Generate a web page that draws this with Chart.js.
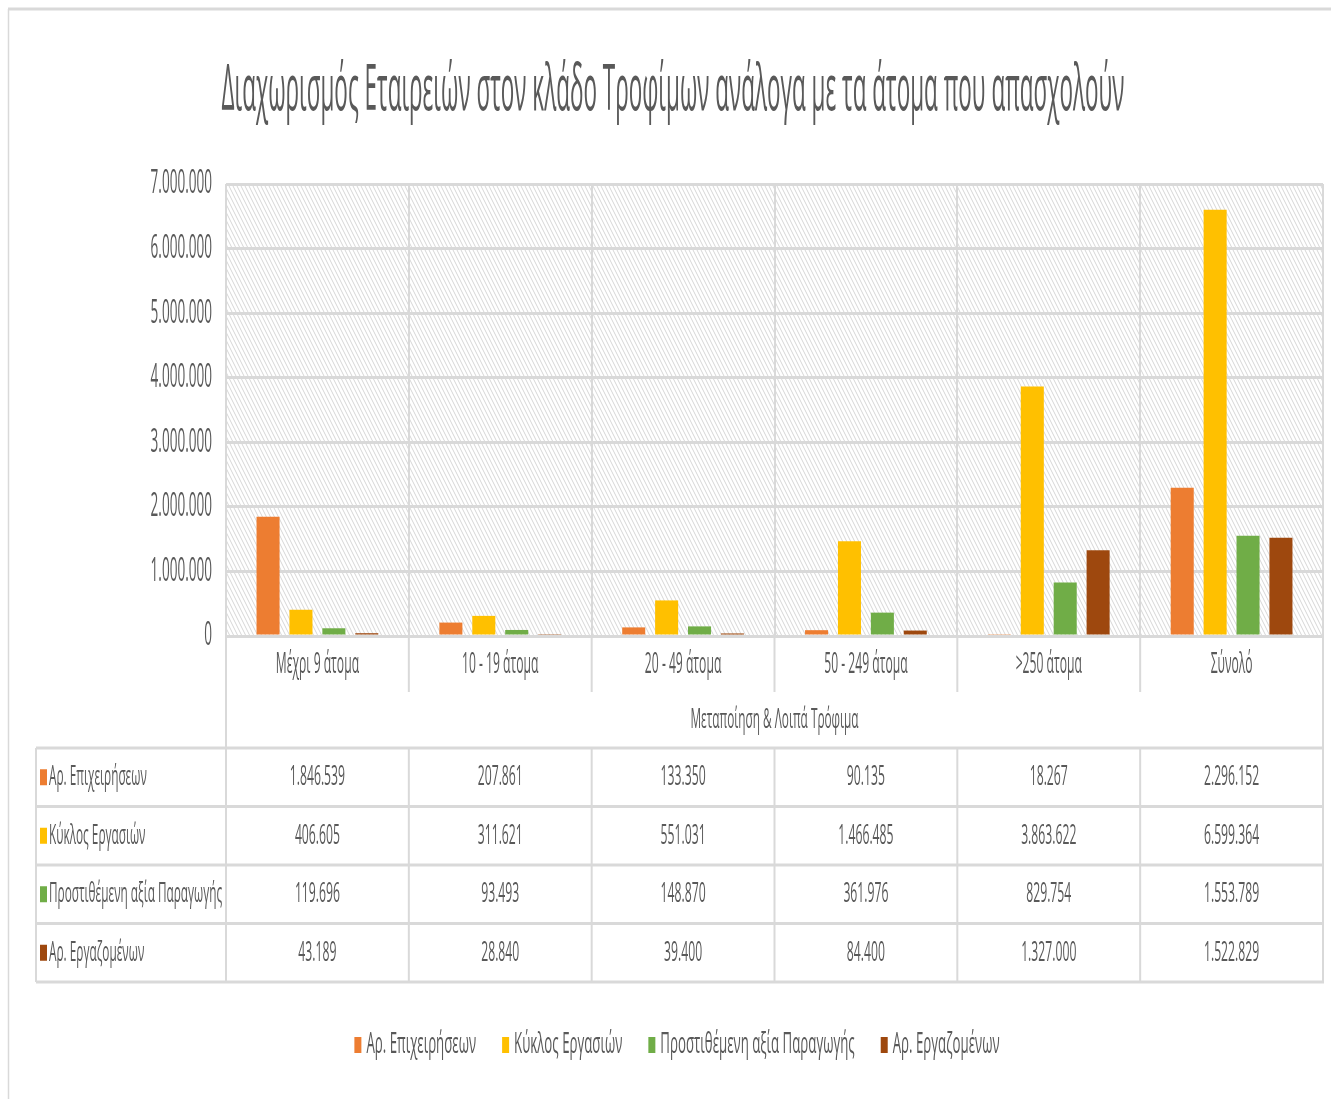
<!DOCTYPE html>
<html lang="el">
<head>
    <meta charset="UTF-8">
    <title>Διαχωρισμός Εταιρειών</title>
    <script src="https://cdn.jsdelivr.net/npm/chart.js"></script>
    <style>
        body { margin: 0; background: #fff; }
        #wrap { width: 1331px; height: 1099px; }
    </style>
</head>
<body>
<div id="wrap"><canvas id="chart" width="1331" height="1099"></canvas></div>
<script>
    const categories = ['Μέχρι 9 άτομα', '10 - 19 άτομα', '20 - 49 άτομα', '50 - 249 άτομα', '>250 άτομα', 'Σύνολό'];
    const seriesNames = ['Αρ. Επιχειρήσεων', 'Κύκλος Εργασιών', 'Προστιθέμενη αξία Παραγωγής', 'Αρ. Εργαζομένων'];
    const firms = [1846539, 207861, 133350, 90135, 18267, 2296152];
    const turnover = [406605, 311621, 551031, 1466485, 3863622, 6599364];
    const addedValue = [119696, 93493, 148870, 361976, 829754, 1553789];
    const employees = [43189, 28840, 39400, 84400, 1327000, 1522829];
    const seriesColors = ['#ED7D31', '#FFC000', '#70AD47', '#9E480E'];
    const titleText = 'Διαχωρισμός Εταιρειών στον κλάδο Τροφίμων ανάλογα με τα άτομα που απασχολούν';
    const axisTitle = 'Μεταποίηση & Λοιπά Τρόφιμα';
    const yMax = 7000000, yStep = 1000000;

    const seriesData = [firms, turnover, addedValue, employees];
    const GRID = '#d9d9d9';
    const TXT = '#595959';
    const FONT = '"Open Sans", sans-serif';

    // layout (px)
    const plotL = 226, plotR = 1323, plotT = 184, plotB = 636;
    const tableL = 36, tableT = 748, rowH = 58.5;

    function fmt(v) {
        return String(v).replace(/\B(?=(\d{3})+(?!\d))/g, '.');
    }

    // the source image is squeezed sideways, so text is drawn with a horizontal scale
    let SX = 0.42;
    function txt(ctx, s, x, y, size, align, k) {
        const sx = SX * (k || 1);
        ctx.save();
        ctx.font = size + 'px ' + FONT;
        ctx.fillStyle = TXT;
        ctx.textBaseline = 'middle';
        ctx.textAlign = 'left';
        const w = ctx.measureText(s).width * sx;
        let left = x;
        if (align === 'center') left = x - w / 2;
        if (align === 'right') left = x - w;
        ctx.translate(left, y);
        ctx.scale(sx, 1);
        ctx.fillText(s, 0, 0);
        ctx.restore();
        return w;
    }

    function line(ctx, x1, y1, x2, y2, w) {
        ctx.save();
        ctx.strokeStyle = GRID;
        ctx.lineWidth = w;
        ctx.beginPath();
        ctx.moveTo(x1, y1);
        ctx.lineTo(x2, y2);
        ctx.stroke();
        ctx.restore();
    }

    function makeHatch() {
        const c = document.createElement('canvas');
        c.width = 4; c.height = 8;
        const g = c.getContext('2d');
        g.fillStyle = '#fff';
        g.fillRect(0, 0, 4, 8);
        g.strokeStyle = '#d6d6d6';
        g.lineWidth = 1;
        g.beginPath();
        g.moveTo(-1, -2); g.lineTo(5, 10);
        g.moveTo(-5, -2); g.lineTo(1, 10);
        g.moveTo(3, -2); g.lineTo(9, 10);
        g.stroke();
        return c;
    }

    const decor = {
        id: 'decor',
        beforeDraw(chart) {
            const ctx = chart.ctx, a = chart.chartArea;
            ctx.save();
            ctx.fillStyle = '#fff';
            ctx.fillRect(0, 0, chart.width, chart.height);
            ctx.fillStyle = ctx.createPattern(makeHatch(), 'repeat');
            ctx.fillRect(a.left, a.top, a.right - a.left, a.bottom - a.top);
            ctx.restore();
        },
        afterDraw(chart) {
            const ctx = chart.ctx, a = chart.chartArea;
            const xs = chart.scales.x, ys = chart.scales.y;

            ctx.save();
            ctx.font = '64px ' + FONT;
            SX = 903 / ctx.measureText(titleText).width;
            ctx.restore();

            // outer frame
            line(ctx, 8, 9, 1331, 9, 3);
            line(ctx, 8.5, 9, 8.5, 1099, 1.5);

            // title
            txt(ctx, titleText, 673, 92, 64, 'center');

            // y tick labels
            ys.ticks.forEach(t => {
                txt(ctx, fmt(t.value), 212, ys.getPixelForValue(t.value), 33, 'right', 1.17);
            });

            // category boundaries below the plot
            const half = (xs.getPixelForValue(1) - xs.getPixelForValue(0)) / 2;
            const bounds = categories.map((c, i) => xs.getPixelForValue(i) - half);
            bounds.push(xs.getPixelForValue(categories.length - 1) + half);
            const tableB = tableT + rowH * seriesNames.length;
            bounds.forEach((bx, i) => {
                if (i === 0 || i === bounds.length - 1) {
                    line(ctx, bx, a.bottom, bx, tableT, 2);
                } else {
                    line(ctx, bx, a.bottom, bx, 692, 2);
                }
                line(ctx, bx, tableT, bx, tableB, 2);
            });

            // category labels and axis title
            categories.forEach((c, i) => txt(ctx, c, xs.getPixelForValue(i), 665, 29, 'center', 1.19));
            txt(ctx, axisTitle, (a.left + a.right) / 2, 720, 28, 'center', 1.2);

            // data table
            line(ctx, tableL, tableT, tableL, tableB, 2);
            for (let r = 0; r <= seriesNames.length; r++) {
                line(ctx, tableL, tableT + r * rowH, bounds[bounds.length - 1] + 1, tableT + r * rowH, 3);
            }
            seriesNames.forEach((name, r) => {
                const cy = tableT + r * rowH + rowH / 2;
                ctx.fillStyle = seriesColors[r];
                ctx.fillRect(40, cy - 8, 7, 16);
                txt(ctx, name, 49, cy, 28, 'left', 1.2);
                seriesData[r].forEach((v, i) => txt(ctx, fmt(v), xs.getPixelForValue(i), cy, 28, 'center', 1.24));
            });

            // legend
            const lk = 1.3;
            ctx.save();
            ctx.font = '29px ' + FONT;
            const widths = seriesNames.map(n => ctx.measureText(n).width * SX * lk);
            ctx.restore();
            const gap = 26, mk = 7, mkGap = 5;
            const total = widths.reduce((s, w) => s + w + mk + mkGap, 0) + gap * (widths.length - 1);
            let lx = 677 - total / 2;
            const ly = 1045;
            seriesNames.forEach((n, i) => {
                ctx.fillStyle = seriesColors[i];
                ctx.fillRect(lx, ly - 8, mk, 16);
                txt(ctx, n, lx + mk + mkGap, ly, 29, 'left', lk);
                lx += mk + mkGap + widths[i] + gap;
            });
        }
    };

    new Chart(document.getElementById('chart'), {
        type: 'bar',
        data: {
            labels: categories,
            datasets: seriesNames.map((n, i) => ({
                label: n,
                data: seriesData[i],
                backgroundColor: seriesColors[i],
                categoryPercentage: 0.72,
                barPercentage: 0.7
            }))
        },
        options: {
            responsive: false,
            animation: false,
            layout: { padding: { left: plotL, right: 1331 - plotR, top: plotT, bottom: 1099 - plotB } },
            plugins: {
                legend: { display: false },
                title: { display: false },
                tooltip: { enabled: false }
            },
            scales: {
                x: {
                    ticks: { display: false },
                    grid: { color: GRID, lineWidth: 2, drawTicks: false, offset: true },
                    border: { display: false },
                    afterFit: s => { s.height = 0; }
                },
                y: {
                    min: 0,
                    max: yMax,
                    ticks: { display: false, stepSize: yStep },
                    grid: { color: GRID, lineWidth: 3, drawTicks: false },
                    border: { display: false },
                    afterFit: s => { s.width = 0; }
                }
            }
        },
        plugins: [decor]
    });
</script>
</body>
</html>
